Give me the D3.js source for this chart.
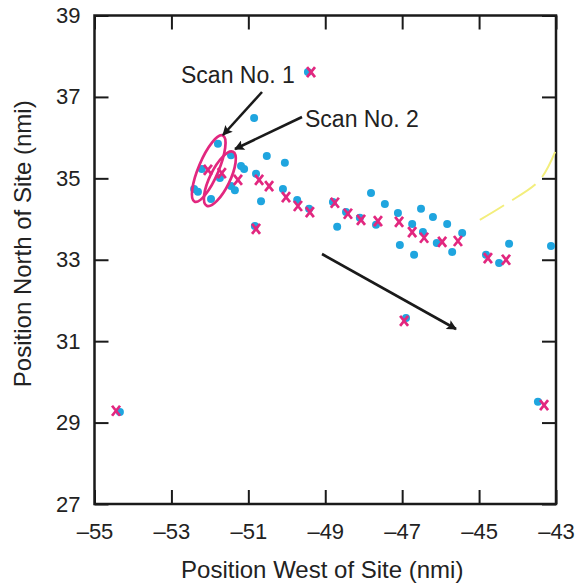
<!DOCTYPE html>
<html>
<head>
<meta charset="utf-8">
<script src="https://cdn.jsdelivr.net/npm/d3@7"></script>
<style>
  body { margin: 0; background: #fff; }
  svg text { font-family: "Liberation Sans", Arial, sans-serif; fill: #222; }
</style>
</head>
<body>
<svg id="chart" width="579" height="586"></svg>
<script>
// ---- data (nmi) ----
const dotX = [-49.45, -50.85, -51.79, -51.45, -51.19, -51.11, -50.52, -50.05, -52.21, -51.74,
              -51.45, -51.35, -52.41, -52.31, -51.97, -50.80, -50.67, -50.10, -49.73, -49.42,
              -50.83, -48.80, -48.69, -48.46, -48.10, -47.81, -47.45, -47.68, -47.11, -46.51,
              -46.20, -45.83, -46.74, -46.46, -47.06, -46.69, -46.10, -45.70, -45.44, -44.82,
              -44.48, -44.22, -43.13, -54.34, -46.90, -43.47];
const dotY = [37.61, 36.48, 35.85, 35.57, 35.30, 35.23, 35.55, 35.38, 35.23, 35.01,
              34.81, 34.71, 34.74, 34.67, 34.49, 35.11, 34.44, 34.74, 34.47, 34.25,
              33.83, 34.42, 33.81, 34.17, 34.03, 34.64, 34.37, 33.86, 34.15, 34.25,
              34.05, 33.88, 33.88, 33.68, 33.36, 33.12, 33.41, 33.19, 33.66, 33.12,
              32.92, 33.39, 33.34, 29.26, 31.57, 29.51];

const crossX = [-49.37, -52.05, -51.69, -51.27, -50.72, -50.46, -50.02, -49.71, -49.40, -50.80,
                -48.75, -48.41, -48.07, -47.63, -47.08, -46.74, -46.43, -45.96, -45.55, -44.77,
                -44.30, -54.44, -46.95, -43.31];
const crossY = [37.61, 35.21, 35.13, 34.96, 34.96, 34.81, 34.54, 34.32, 34.17, 33.76,
                34.40, 34.13, 33.98, 33.95, 33.93, 33.68, 33.54, 33.44, 33.46, 33.04,
                33.00, 29.29, 31.50, 29.43];

const xTicks = [-55, -53, -51, -49, -47, -45, -43];
const yTicks = [27, 29, 31, 33, 35, 37, 39];

// scan ellipses: centre in data units
const scanNames = ['Scan No. 1', 'Scan No. 2'];
const scanCx = [-52.03, -51.74];
const scanCy = [35.24, 34.99];

// faint yellow trace near the right edge
const traceX = [-44.98, -44.3, -43.42, -43.0];
const traceY = [33.98, 34.37, 34.96, 35.70];

const svg = d3.select('#chart');
const x = d3.scaleLinear().domain([-55, -43]).range([94.5, 556]);
const y = d3.scaleLinear().domain([27, 39]).range([504, 15.5]);
const fmt = d => (d < 0 ? '\u2013' + Math.abs(d) : String(d));

const blue = '#1fa5df';
const pink = '#e2277f';

// arrow head
svg.append('defs').append('marker')
    .attr('id', 'head')
    .attr('viewBox', '0 0 10 10')
    .attr('refX', 9).attr('refY', 5)
    .attr('markerWidth', 14).attr('markerHeight', 10)
    .attr('markerUnits', 'userSpaceOnUse')
    .attr('orient', 'auto')
  .append('path')
    .attr('d', 'M0,0 L10,5 L0,10 L2,5 Z')
    .attr('fill', '#1a1a1a');

// axes
const axisStyle = g => {
    g.select('.domain').remove();
    g.selectAll('.tick line').attr('stroke', '#1a1a1a').attr('stroke-width', 2);
    g.selectAll('.tick text').style('font-size', '22px').attr('fill', '#222');
};

svg.append('g').attr('transform', `translate(0,${y(27)})`)
    .call(d3.axisBottom(x).tickValues(xTicks).tickFormat(fmt).tickSizeInner(-14).tickSizeOuter(0).tickPadding(19))
    .call(axisStyle);
svg.append('g').attr('transform', `translate(0,${y(39)})`)
    .call(d3.axisTop(x).tickValues(xTicks).tickFormat('').tickSizeInner(-14).tickSizeOuter(0))
    .call(axisStyle);
svg.append('g').attr('transform', `translate(${x(-55)},0)`)
    .call(d3.axisLeft(y).tickValues(yTicks).tickFormat(fmt).tickSizeInner(-14).tickSizeOuter(0).tickPadding(14))
    .call(axisStyle);
svg.append('g').attr('transform', `translate(${x(-43)},0)`)
    .call(d3.axisRight(y).tickValues(yTicks).tickFormat('').tickSizeInner(-14).tickSizeOuter(0))
    .call(axisStyle);

// frame
svg.append('rect')
    .attr('x', x(-55)).attr('y', y(39))
    .attr('width', x(-43) - x(-55)).attr('height', y(27) - y(39))
    .attr('fill', 'none').attr('stroke', '#1a1a1a').attr('stroke-width', 2.5);

// axis titles
svg.append('text')
    .attr('x', (x(-55) + x(-43)) / 2 - 3).attr('y', 578)
    .attr('text-anchor', 'middle').style('font-size', '24px')
    .text('Position West of Site (nmi)');
svg.append('text')
    .attr('transform', `translate(31,${(y(27) + y(39)) / 2 - 16}) rotate(-90)`)
    .attr('text-anchor', 'middle').style('font-size', '24px')
    .text('Position North of Site (nmi)');

// yellow trace
svg.append('path')
    .datum(d3.range(traceX.length))
    .attr('d', d3.line().x(i => x(traceX[i])).y(i => y(traceY[i])).curve(d3.curveCatmullRom))
    .attr('fill', 'none').attr('stroke', '#f3ee7c').attr('stroke-width', 2)
    .attr('stroke-dasharray', '28,10');

// dots
svg.append('g').selectAll('circle')
    .data(d3.range(dotX.length))
    .join('circle')
    .attr('cx', i => x(dotX[i]))
    .attr('cy', i => y(dotY[i]))
    .attr('r', 4)
    .attr('fill', blue);

// crosses
svg.append('g').selectAll('path')
    .data(d3.range(crossX.length))
    .join('path')
    .attr('d', i => {
        const cx = x(crossX[i]), cy = y(crossY[i]);
        return `M${cx - 4},${cy - 5}L${cx + 4},${cy + 5}M${cx + 4},${cy - 5}L${cx - 4},${cy + 5}`;
    })
    .attr('stroke', pink).attr('stroke-width', 2.7).attr('fill', 'none');

// scan ellipses
svg.append('g').selectAll('ellipse')
    .data(d3.range(scanNames.length))
    .join('ellipse')
    .attr('transform', i => `translate(${x(scanCx[i])},${y(scanCy[i])}) rotate(${i === 0 ? 23 : 26})`)
    .attr('rx', 10)
    .attr('ry', i => (i === 0 ? 36 : 30))
    .attr('fill', 'none').attr('stroke', pink).attr('stroke-width', 2.7);

// annotations
svg.append('text').attr('x', 181).attr('y', 83).style('font-size', '23px').text(scanNames[0]);
svg.append('text').attr('x', 305).attr('y', 127).style('font-size', '23px').text(scanNames[1]);

const arrows = [[262, 92, 223, 135], [302, 117, 235, 149], [322, 254, 456, 329]];
svg.append('g').selectAll('line')
    .data(arrows)
    .join('line')
    .attr('x1', d => d[0]).attr('y1', d => d[1])
    .attr('x2', d => d[2]).attr('y2', d => d[3])
    .attr('stroke', '#1a1a1a').attr('stroke-width', 2.6)
    .attr('marker-end', 'url(#head)');
</script>
</body>
</html>
